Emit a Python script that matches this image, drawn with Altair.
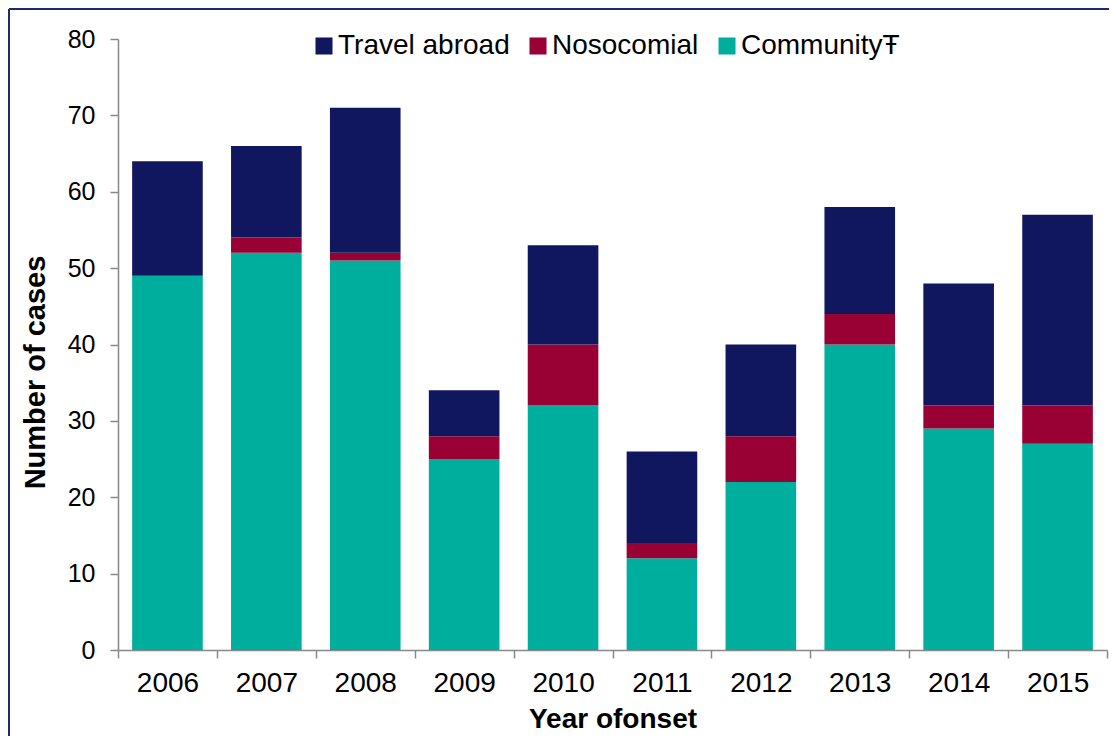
import altair as alt
import pandas as pd

years = ["2006", "2007", "2008", "2009", "2010", "2011", "2012", "2013", "2014", "2015"]
community = [49, 52, 51, 25, 32, 12, 22, 40, 29, 27]
nosocomial = [0, 2, 1, 3, 8, 2, 6, 4, 3, 5]
travel = [15, 12, 19, 6, 13, 12, 12, 14, 16, 25]

series_names = ["Travel abroad", "Nosocomial", "Community\u0166"]
series_colors = ["#11175E", "#990033", "#00AE9E"]
y_ticks = [0, 10, 20, 30, 40, 50, 60, 70, 80]

rows = []
for i, yr in enumerate(years):
    rows.append({"year": yr, "series": series_names[2], "value": community[i], "ord": 0})
    rows.append({"year": yr, "series": series_names[1], "value": nosocomial[i], "ord": 1})
    rows.append({"year": yr, "series": series_names[0], "value": travel[i], "ord": 2})
df = pd.DataFrame(rows)

FONT = "Liberation Sans"
W, H = 989, 611

bars = alt.Chart(df).mark_bar(width=alt.RelativeBandSize(0.714)).encode(
    x=alt.X(
        "year:N",
        sort=years,
        scale=alt.Scale(paddingInner=0, paddingOuter=0),
        title="Year ofonset",
        axis=alt.Axis(
            labelAngle=0,
            tickBand="extent",
            labelFontSize=28,
            labelPadding=11,
            titleFontSize=28,
            titlePadding=8,
        ),
    ),
    y=alt.Y(
        "value:Q",
        stack="zero",
        scale=alt.Scale(domain=[0, 80], nice=False),
        title="Number of cases",
        axis=alt.Axis(
            values=y_ticks,
            grid=False,
            labelFontSize=25,
            labelPadding=15,
            titleFontSize=29,
            titlePadding=17,
            titleY=333,
        ),
    ),
    color=alt.Color(
        "series:N",
        scale=alt.Scale(domain=series_names, range=series_colors),
        legend=alt.Legend(
            title=None,
            orient="none",
            direction="horizontal",
            legendX=192,
            legendY=-7,
            symbolType="square",
            symbolSize=290,
            symbolStrokeWidth=0,
            symbolOpacity=1,
            labelFontSize=28,
            labelColor="black",
            labelOffset=0,
            labelLimit=0,
            columnPadding=14,
        ),
    ),
    order=alt.Order("ord:Q"),
)

border_left = alt.Chart(df).mark_rule(color="#1F2A6B", strokeWidth=2).encode(
    x=alt.value(-109), y=alt.value(-30), y2=alt.value(H + 120)
)
border_top = alt.Chart(df).mark_rule(color="#1F2A6B", strokeWidth=2).encode(
    x=alt.value(-109), x2=alt.value(W + 20), y=alt.value(-30)
)

chart = alt.layer(bars, border_left, border_top).properties(
    width=W,
    height=H,
    autosize=alt.AutoSizeParams(type="none"),
    padding={"left": 110, "top": 31, "right": 2, "bottom": 86},
).configure(
    font=FONT,
).configure_view(
    stroke=None,
).configure_axis(
    domainColor="#888888",
    tickColor="#888888",
    domainWidth=1.5,
    tickWidth=1.5,
    tickSize=8,
    labelColor="black",
    titleColor="black",
    titleFontWeight="bold",
    labelFont=FONT,
    titleFont=FONT,
).configure_legend(
    labelFont=FONT,
)

chart.save("out.html", embed_options={"renderer": "svg", "actions": False})
